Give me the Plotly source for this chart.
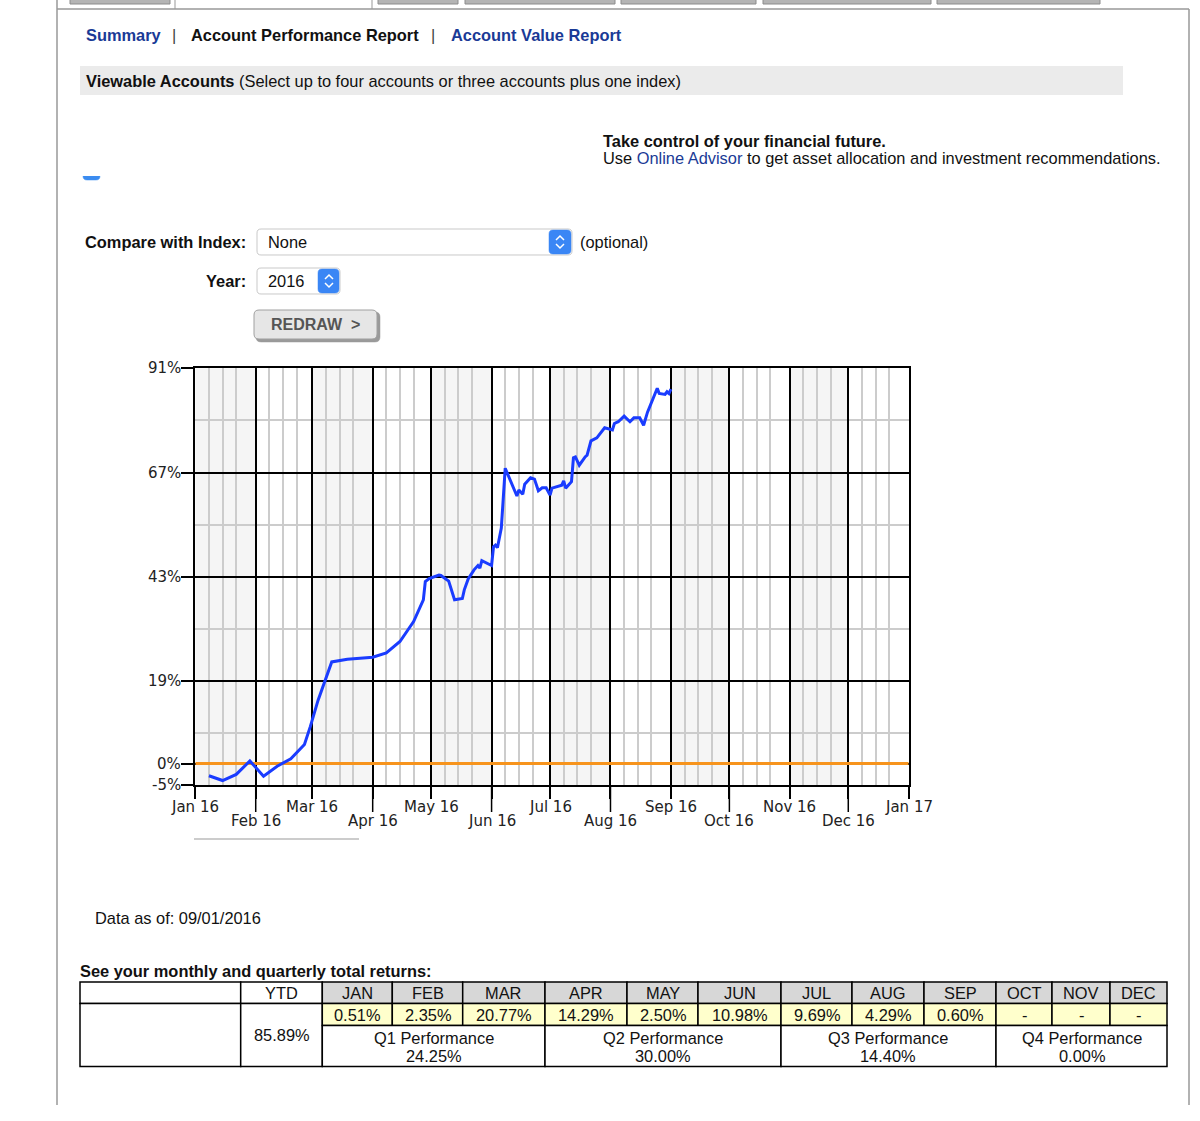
import plotly.graph_objects as go

W, H = 1200, 1121
FIG_H = 1105     # rendered height of the figure (keeps the page from being rescaled)
TOP = 0

# ---------------- data ----------------
dates = [
    '2016-01-08', '2016-01-15', '2016-01-22', '2016-01-29',
    '2016-02-05', '2016-02-12', '2016-02-19', '2016-02-26', '2016-02-29',
    '2016-03-04', '2016-03-11', '2016-03-19',
    '2016-04-01', '2016-04-08', '2016-04-15', '2016-04-22', '2016-04-27', '2016-04-28', '2016-04-30',
    '2016-05-05', '2016-05-06', '2016-05-09', '2016-05-10', '2016-05-13', '2016-05-17', '2016-05-18',
    '2016-05-20', '2016-05-23', '2016-05-25', '2016-05-26', '2016-05-27',
    '2016-06-01', '2016-06-02', '2016-06-03', '2016-06-04', '2016-06-06', '2016-06-08', '2016-06-14',
    '2016-06-15', '2016-06-17', '2016-06-18', '2016-06-21', '2016-06-23', '2016-06-25', '2016-06-27',
    '2016-06-29',
    '2016-07-01', '2016-07-02', '2016-07-07', '2016-07-08', '2016-07-09', '2016-07-12', '2016-07-13',
    '2016-07-14', '2016-07-16', '2016-07-19', '2016-07-20', '2016-07-22', '2016-07-25', '2016-07-29',
    '2016-08-02', '2016-08-03', '2016-08-05', '2016-08-08', '2016-08-11', '2016-08-13', '2016-08-16',
    '2016-08-18', '2016-08-20', '2016-08-25', '2016-08-26', '2016-08-29', '2016-08-30', '2016-08-31',
    '2016-09-01',
]
returns_pct = [
    -2.8, -3.9, -2.5, 0.6,
    -2.9, -0.6, 1.1, 4.4, 8.5,
    14.6, 23.4, 24.0,
    24.5, 25.5, 28.1, 32.7, 37.7, 41.9, 42.6,
    43.4, 43.3, 42.2, 42.0, 37.7, 38.0, 40.0, 42.5, 44.6, 45.6, 45.0, 46.7,
    45.6, 49.9, 50.3, 49.7, 54.2, 68.0, 61.6, 63.0, 62.0, 64.3, 65.8, 65.5, 62.8, 63.5, 63.5,
    61.8, 63.4, 64.1, 65.1, 63.4, 64.9, 70.4, 70.6, 68.7, 70.6, 71.0, 74.3, 75.0, 77.3,
    76.8, 78.3, 78.7, 80.0, 78.7, 79.6, 79.6, 77.9, 80.9, 86.4, 85.2, 85.0, 85.6, 85.2, 86.2,
]
baseline_dates = ['2016-01-01', '2017-01-01']
baseline_values = [0, 0]

month_starts = ['2016-01-01', '2016-02-01', '2016-03-01', '2016-04-01', '2016-05-01', '2016-06-01',
                '2016-07-01', '2016-08-01', '2016-09-01', '2016-10-01', '2016-11-01', '2016-12-01',
                '2017-01-01']
month_labels = ['Jan 16', 'Feb 16', 'Mar 16', 'Apr 16', 'May 16', 'Jun 16', 'Jul 16', 'Aug 16',
                'Sep 16', 'Oct 16', 'Nov 16', 'Dec 16', 'Jan 17']
y_ticks = [-5, 0, 19, 43, 67, 91]
y_tick_labels = ['-5%', '0%', '19%', '43%', '67%', '91%']
y_minor = [7, 31, 55, 79]
week_lines = ['2016-%02d-%02d' % (m, d) for m in range(1, 13) for d in (8, 15, 22)]

table_headers = ['YTD', 'JAN', 'FEB', 'MAR', 'APR', 'MAY', 'JUN', 'JUL', 'AUG', 'SEP', 'OCT', 'NOV', 'DEC']
monthly_returns = ['0.51%', '2.35%', '20.77%', '14.29%', '2.50%', '10.98%', '9.69%', '4.29%', '0.60%',
                   '-', '-', '-']
quarter_labels = ['Q1 Performance', 'Q2 Performance', 'Q3 Performance', 'Q4 Performance']
quarter_returns = ['24.25%', '30.00%', '14.40%', '0.00%']
ytd_return = '85.89%'

# ---------------- helpers ----------------
PAGE_FONT = 'Liberation Sans, Arial, sans-serif'
CHART_FONT = 'DejaVu Sans, Verdana, sans-serif'
BLUE_LINK = '#1a3a96'
FS = 16.4


def X(px):
    return px / W


def Y(py):
    return 1 - (py - TOP) / FIG_H


shapes = []
annotations = []


def prect(x0, y0, x1, y1, fill=None, line=None, lw=1.0):
    shapes.append(dict(type='rect', xref='paper', yref='paper',
                       x0=X(x0), x1=X(x1), y0=Y(y1), y1=Y(y0),
                       fillcolor=fill or 'rgba(0,0,0,0)',
                       line=dict(color=line or 'rgba(0,0,0,0)', width=lw if line else 0)))


def pline(x0, y0, x1, y1, color='#000', lw=1.0):
    shapes.append(dict(type='line', xref='paper', yref='paper',
                       x0=X(x0), x1=X(x1), y0=Y(y0), y1=Y(y1),
                       line=dict(color=color, width=lw)))


def ppath(points, color='#fff', lw=1.5):
    d = 'M ' + ' L '.join('%f,%f' % (X(a), Y(b)) for a, b in points)
    shapes.append(dict(type='path', xref='paper', yref='paper', path=d,
                       line=dict(color=color, width=lw)))


def rrect(x0, y0, x1, y1, r, fill, line, lw=1.0):
    def p(a, b):
        return '%f,%f' % (X(a), Y(b))
    d = ('M ' + p(x0 + r, y0) + ' L ' + p(x1 - r, y0) + ' Q ' + p(x1, y0) + ' ' + p(x1, y0 + r) +
         ' L ' + p(x1, y1 - r) + ' Q ' + p(x1, y1) + ' ' + p(x1 - r, y1) +
         ' L ' + p(x0 + r, y1) + ' Q ' + p(x0, y1) + ' ' + p(x0, y1 - r) +
         ' L ' + p(x0, y0 + r) + ' Q ' + p(x0, y0) + ' ' + p(x0 + r, y0) + ' Z')
    shapes.append(dict(type='path', xref='paper', yref='paper', path=d, fillcolor=fill,
                       line=dict(color=line, width=lw)))


def text(x, y, s, size=FS, color='#111', xanchor='left', family=PAGE_FONT):
    annotations.append(dict(x=X(x), y=Y(y), xref='paper', yref='paper', text=s, showarrow=False,
                            xanchor=xanchor, yanchor='middle',
                            font=dict(family=family, size=size, color=color)))


# ---------------- page frame ----------------
tabs_gray = [(70, 170), (378, 458), (465, 615), (621, 756), (763, 931), (937, 1100)]
for a, b in tabs_gray:
    prect(a, -3, b, 4, fill='#b4b4b4', line='#8c8c8c', lw=1)
pline(175, 0, 175, 9, '#999', 1)
pline(372, 0, 372, 9, '#999', 1)
pline(57, 9, 1189, 9, '#999', 1.5)
pline(57, 0, 57, FIG_H + 2, '#999', 1.5)
pline(1189, 9, 1189, FIG_H + 2, '#999', 1.5)

# nav
text(84, 35, '<b>Summary</b>', color=BLUE_LINK)
text(170, 35, '|', color='#444')
text(189, 35, '<b>Account Performance Report</b>', color='#111')
text(429, 35, '|', color='#444')
text(449, 35, '<b>Account Value Report</b>', color=BLUE_LINK)

prect(80, 66, 1123, 95, fill='#ebebeb')
text(84, 81, '<b>Viewable Accounts</b> (Select up to four accounts or three accounts plus one index)')

text(601, 141, '<b>Take control of your financial future.</b>')
text(601, 158, "Use <span style='color:%s'>Online Advisor</span> to get asset allocation and investment recommendations." % BLUE_LINK)

# partial (clipped) checkbox
rrect(83, 170, 100, 180, 4, '#3b8cf0', '#3b8cf0', 0.5)
prect(80, 160, 260, 176, fill='#ffffff')

# form controls
text(248, 242, '<b>Compare with Index:</b>', xanchor='right')
rrect(257, 229, 572, 255, 4, '#ffffff', '#c9c9c9', 1)
rrect(549, 230, 571, 254, 4, '#3a86f5', '#3a86f5', 0.5)
ppath([(556, 240), (560, 236), (564, 240)], '#ffffff', 1.5)
ppath([(556, 244), (560, 248), (564, 244)], '#ffffff', 1.5)
text(266, 242, 'None')
text(578, 242, '(optional)')

text(248, 281, '<b>Year:</b>', xanchor='right')
rrect(257, 268, 340, 294, 4, '#ffffff', '#c9c9c9', 1)
rrect(318, 269, 339, 293, 4, '#3a86f5', '#3a86f5', 0.5)
ppath([(325, 279), (329, 275), (333, 279)], '#ffffff', 1.5)
ppath([(325, 283), (329, 287), (333, 283)], '#ffffff', 1.5)
text(266, 281, '2016')

rrect(256, 312, 380, 342, 5, '#9a9a9a', '#9a9a9a', 0.5)
rrect(254, 310, 377, 339, 5, '#e6e6e6', '#a0a0a0', 1)
text(316, 324, '<b>REDRAW  &gt;</b>', size=16, color='#555', xanchor='center')

pline(194, 839, 359, 839, '#cccccc', 2)

text(93, 918, 'Data as of: 09/01/2016')
text(78, 971, '<b>See your monthly and quarterly total returns:</b>')

# ---------------- table ----------------
edges = [80, 240.7, 322.3, 392.3, 462.7, 545, 627, 698, 781, 852, 924, 996, 1052, 1110, 1167]
r0, r1, r2, r3 = 982, 1003.5, 1025.5, 1066.5
TL = '#000'
prect(edges[0], r0, edges[1], r1, fill='#ffffff', line=TL, lw=1.5)
prect(edges[0], r1, edges[1], r3, fill='#ffffff', line=TL, lw=1.5)
prect(edges[1], r0, edges[2], r1, fill='#ffffff', line=TL, lw=1.5)
prect(edges[1], r1, edges[2], r3, fill='#ffffff', line=TL, lw=1.5)
for i in range(12):
    a, b = edges[2 + i], edges[3 + i]
    prect(a, r0, b, r1, fill='#d7d7d7', line=TL, lw=1.5)
    prect(a, r1, b, r2, fill='#ffffcc', line=TL, lw=1.5)
for q in range(4):
    a, b = edges[2 + 3 * q], edges[5 + 3 * q]
    prect(a, r2, b, r3, fill='#ffffff', line=TL, lw=1.5)

for j, h in enumerate(table_headers):
    cx = (edges[1 + j] + edges[2 + j]) / 2
    text(cx, 992.5, h, xanchor='center')
for i, v in enumerate(monthly_returns):
    cx = (edges[2 + i] + edges[3 + i]) / 2
    text(cx, 1014.5, v, xanchor='center')
text((edges[1] + edges[2]) / 2, 1035, ytd_return, xanchor='center')
for q in range(4):
    cx = (edges[2 + 3 * q] + edges[5 + 3 * q]) / 2
    text(cx, 1037.5, quarter_labels[q], xanchor='center')
    text(cx, 1056, quarter_returns[q], xanchor='center')

# ---------------- chart ----------------
X0, X1 = 195.3, 908.7
YT, YB = 368.3, 785.3

for i in range(0, 12, 2):
    shapes.append(dict(type='rect', xref='x', yref='y', x0=month_starts[i], x1=month_starts[i + 1],
                       y0=-5, y1=91, fillcolor='#f5f5f5', line=dict(width=0), layer='below'))
for i in range(1, 12, 2):
    shapes.append(dict(type='line', xref='x', yref='paper', x0=month_starts[i], x1=month_starts[i],
                       y0=Y(YB), y1=Y(812), line=dict(color='#000', width=1.5)))
for i, lab in enumerate(month_labels):
    annotations.append(dict(x=month_starts[i], xref='x', y=Y(806.5 if i % 2 == 0 else 821), yref='paper',
                            text=lab, showarrow=False, xanchor='center', yanchor='middle',
                            font=dict(family=CHART_FONT, size=15, color='#222')))
for v, lab in zip(y_ticks, y_tick_labels):
    annotations.append(dict(x=X(183), xref='paper', y=v, yref='y', text=lab, showarrow=False,
                            xanchor='right', yanchor='middle',
                            font=dict(family=CHART_FONT, size=15, color='#222')))

fig = go.Figure()
fig.add_trace(go.Scatter(x=baseline_dates, y=baseline_values, mode='lines',
                         line=dict(color='#f7941d', width=3), hoverinfo='skip', showlegend=False))
fig.add_trace(go.Scatter(x=dates, y=returns_pct, mode='lines',
                         line=dict(color='#1a3cff', width=3), showlegend=False))

fig.update_layout(
    width=W, height=FIG_H, autosize=False,
    margin=dict(l=0, r=0, t=0, b=0),
    paper_bgcolor='#ffffff', plot_bgcolor='#ffffff',
    showlegend=False,
    shapes=shapes, annotations=annotations,
    xaxis=dict(
        type='date', domain=[X(X0), X(X1)], range=['2016-01-01', '2017-01-01'],
        tickmode='array', tickvals=month_starts, showticklabels=False,
        ticks='outside', ticklen=12, tickwidth=1.5, tickcolor='#000',
        showgrid=True, gridcolor='#000', gridwidth=1.5,
        minor=dict(tickmode='array', tickvals=week_lines, showgrid=True, gridcolor='#cccccc',
                   gridwidth=1.5, ticks=''),
        showline=True, mirror=True, linecolor='#000', linewidth=1.5,
        zeroline=False, fixedrange=True,
    ),
    yaxis=dict(
        domain=[Y(YB), Y(YT)], range=[-5, 91],
        tickmode='array', tickvals=y_ticks, showticklabels=False,
        ticks='outside', ticklen=13, tickwidth=1.5, tickcolor='#000',
        showgrid=True, gridcolor='#000', gridwidth=1.5,
        minor=dict(tickmode='array', tickvals=y_minor, showgrid=True, gridcolor='#cccccc',
                   gridwidth=1.5, ticks=''),
        showline=True, mirror=True, linecolor='#000', linewidth=1.5,
        zeroline=False, fixedrange=True,
    ),
)

fig.write_html('out.html')
